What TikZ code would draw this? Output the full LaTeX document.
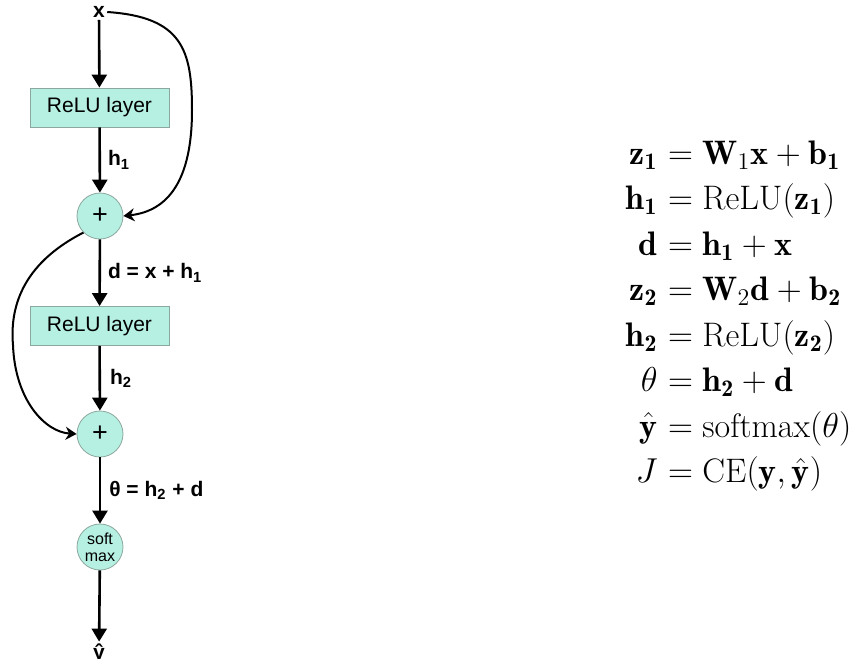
\documentclass[tikz,border=0pt]{standalone}
\usepackage{amsmath}
\usepackage{fontspec}
\setsansfont{Liberation Sans}
\usetikzlibrary{arrows.meta}
\definecolor{layerfill}{RGB}{182,240,226}
\definecolor{layerdraw}{RGB}{140,168,158}

\begin{document}
\begin{tikzpicture}[x=0.5pt,y=-0.5pt,
  relubox/.style={draw=layerdraw,fill=layerfill,minimum width=69.5pt,minimum height=19.5pt,inner sep=0pt,font=\sffamily\fontsize{10.5}{12}\selectfont},
  addnode/.style={circle,draw=layerdraw,fill=layerfill,minimum size=23pt,inner sep=0pt,font=\sffamily\fontsize{13.5}{14}\selectfont},
  edgelabel/.style={anchor=west,inner sep=0pt,font=\sffamily\bfseries\fontsize{10.5}{12}\selectfont},
  flowarrow/.style={-{Triangle[length=6.5pt,width=7.5pt]},line width=1.3pt},
  shortcut/.style={-{Stealth[length=5.5pt,width=6.5pt]},line width=1pt},
  eq/.style={inner sep=0pt,font=\fontsize{17}{20}\selectfont}]
\useasboundingbox (0,0) rectangle (852,659);

% network
\node (x) at (99,12) [inner sep=1pt,font=\sffamily\bfseries\fontsize{10.5}{12}\selectfont] {x};
\node (relu1) at (99.5,107.5) [relubox] {ReLU layer};
\node (add1) at (100,216) [addnode] {+};
\node (relu2) at (99.5,326) [relubox] {ReLU layer};
\node (add2) at (100,434) [addnode] {+};
\node (smax) at (100,547) [addnode,align=center,font=\sffamily\fontsize{8}{8.5}\selectfont] {soft\\max};
\node (yhat) at (99,654) [inner sep=1pt,font=\sffamily\bfseries\fontsize{10.5}{12}\selectfont] {ŷ};

\draw [flowarrow] (x) -- (relu1);
\draw [flowarrow] (relu1) -- (add1) node[edgelabel,midway,xshift=3.5pt] {h\textsubscript{1}};
\draw [flowarrow] (add1) -- (relu2) node[edgelabel,midway,xshift=3.5pt] {d = x + h\textsubscript{1}};
\draw [flowarrow] (relu2) -- (add2) node[edgelabel,midway,xshift=4.5pt] {h\textsubscript{2}};
\draw [flowarrow] (add2) -- (smax) node[edgelabel,midway,xshift=4pt] {θ = h\textsubscript{2} + d};
\draw [flowarrow] (smax) -- (yhat);

% skip connections
\draw [shortcut] (x.east) .. controls +(75,5) and +(0,-60) .. (192,110) .. controls +(0,70) and +(45,-5) .. (add1.east);
\draw [shortcut] (add1.south west) .. controls (20,265) and (10,310) .. (13,345) .. controls (15,400) and (45,432) .. (add2.west);

% equations
\node (lz1) at (658,164) [eq,anchor=base east] {$\mathbf{z_1}$};
\node (rz1) at (658,164) [eq,anchor=base west] {${}=\mathbf{W}_1\mathbf{x}+\mathbf{b_1}$};
\node (lh1) at (658,209.5) [eq,anchor=base east] {$\mathbf{h_1}$};
\node (rh1) at (658,209.5) [eq,anchor=base west] {${}=\mathrm{ReLU}(\mathbf{z_1})$};
\node (ld) at (658,255) [eq,anchor=base east] {$\mathbf{d}$};
\node (rd) at (658,255) [eq,anchor=base west] {${}=\mathbf{h_1}+\mathbf{x}$};
\node (lz2) at (658,300.5) [eq,anchor=base east] {$\mathbf{z_2}$};
\node (rz2) at (658,300.5) [eq,anchor=base west] {${}=\mathbf{W}_2\mathbf{d}+\mathbf{b_2}$};
\node (lh2) at (658,346) [eq,anchor=base east] {$\mathbf{h_2}$};
\node (rh2) at (658,346) [eq,anchor=base west] {${}=\mathrm{ReLU}(\mathbf{z_2})$};
\node (lth) at (658,391.5) [eq,anchor=base east] {$\theta$};
\node (rth) at (658,391.5) [eq,anchor=base west] {${}=\mathbf{h_2}+\mathbf{d}$};
\node (ly) at (658,437) [eq,anchor=base east] {$\hat{\mathbf{y}}$};
\node (ry) at (658,437) [eq,anchor=base west] {${}=\mathrm{softmax}(\theta)$};
\node (lj) at (658,482.5) [eq,anchor=base east] {$J$};
\node (rj) at (658,482.5) [eq,anchor=base west] {${}=\mathrm{CE}(\mathbf{y},\hat{\mathbf{y}})$};
\end{tikzpicture}
\end{document}
